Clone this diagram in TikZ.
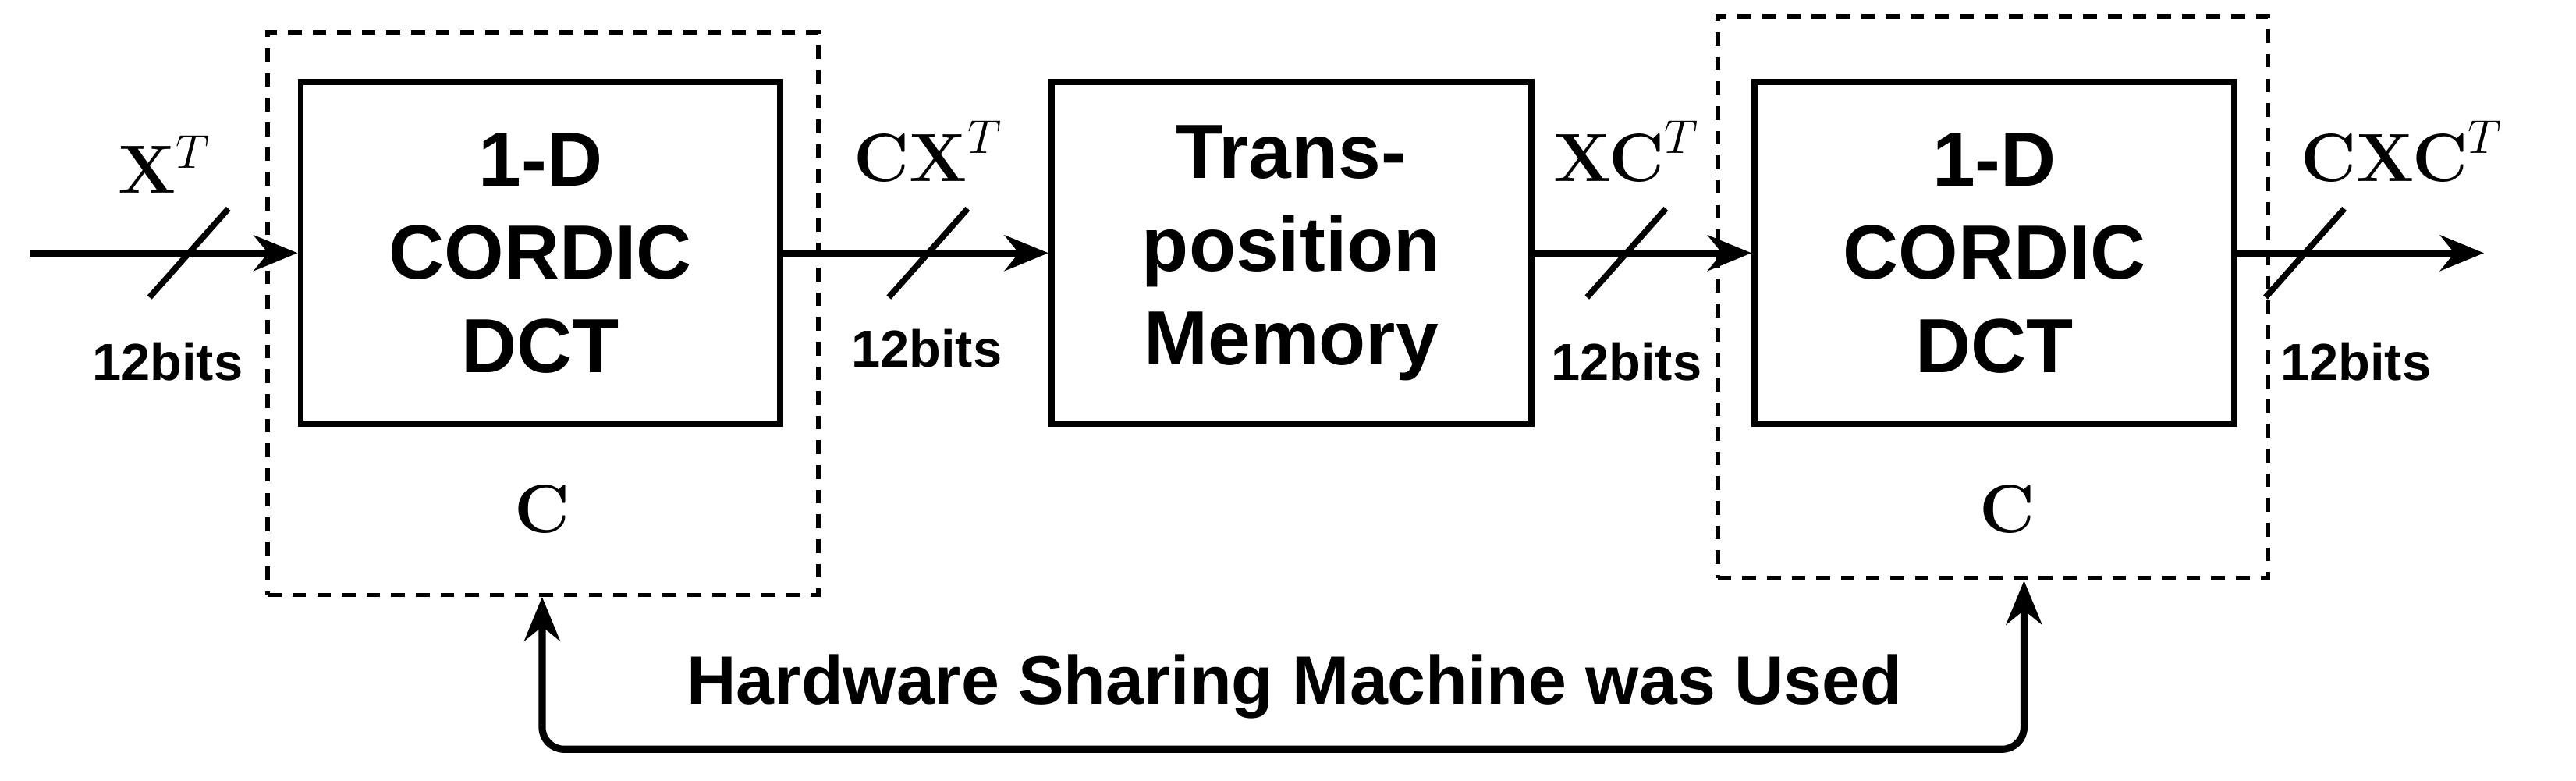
\documentclass[tikz,border=0pt]{standalone}
\usepackage{amsmath}
\usepackage[no-math]{fontspec}
\setmainfont{Liberation Sans}
\usetikzlibrary{arrows.meta}
\begin{document}
\begin{tikzpicture}[x=0.02106cm,y=-0.02106cm,
  blk/.style={draw,line width=2.2pt,minimum width=292*0.02106cm,minimum height=208*0.02106cm,align=center,font=\fontsize{28}{34}\selectfont\bfseries},
  dbox/.style={draw,dash pattern=on 5pt off 4pt,line width=1.6pt,minimum width=335*0.02106cm,minimum height=342*0.02106cm},
  ar/.style={line width=2.6pt,-{Stealth[length=16pt,width=13pt]}},
  sl/.style={line width=2.2pt},
  bits/.style={font=\fontsize{19}{22}\selectfont\bfseries},
  ml/.style={font=\fontsize{27}{30}\selectfont}]
\useasboundingbox (0,0) rectangle (1568,475);
\node[dbox] (d1) at (330.5,191) {};
\node[dbox] (d2) at (1213,181) {};
\node[blk] (b1) at (329,154) {1-D\\CORDIC\\DCT};
\node[blk] (b2) at (786,154) {Trans-\\position\\Memory};
\node[blk] (b3) at (1214,154) {1-D\\CORDIC\\DCT};
\coordinate (in) at (18,154);
\coordinate (out) at (1512,154);
\draw[ar] (in) -- (b1.west);
\draw[ar] (b1.east) -- (b2.west);
\draw[ar] (b2.east) -- (b3.west);
\draw[ar] (b3.east) -- (out);
\foreach \x in {115,565,990,1403}{\draw[sl] (\x-24,181) -- (\x+24,127);}
\node[ml] (l1) at (100,100) {$\mathbf{X}^T$};
\node[ml] (l2) at (565,92) {$\mathbf{CX}^T$};
\node[ml] (l3) at (990,92) {$\mathbf{XC}^T$};
\node[ml] (l4) at (1462,92) {$\mathbf{CXC}^T$};
\node[bits] (t1) at (102,220) {12bits};
\node[bits] (t2) at (564,212) {12bits};
\node[bits] (t3) at (990,220) {12bits};
\node[bits] (t4) at (1434,220) {12bits};
\node[ml] (c1) at (330,310) {$\mathbf{C}$};
\node[ml] (c2) at (1222,310) {$\mathbf{C}$};
\coordinate (p1) at (330,456);
\coordinate (p2) at (1232,456);
\draw[line width=2.6pt,{Stealth[length=16pt,width=13pt]}-{Stealth[length=16pt,width=13pt]},rounded corners=8pt]
  (d1.south -| p1) -- (p1) -- (p2) -- (d2.south -| p2);
\node[font=\fontsize{25}{28}\selectfont\bfseries] (hw) at (788,418) {Hardware Sharing Machine was Used};
\end{tikzpicture}
\end{document}
